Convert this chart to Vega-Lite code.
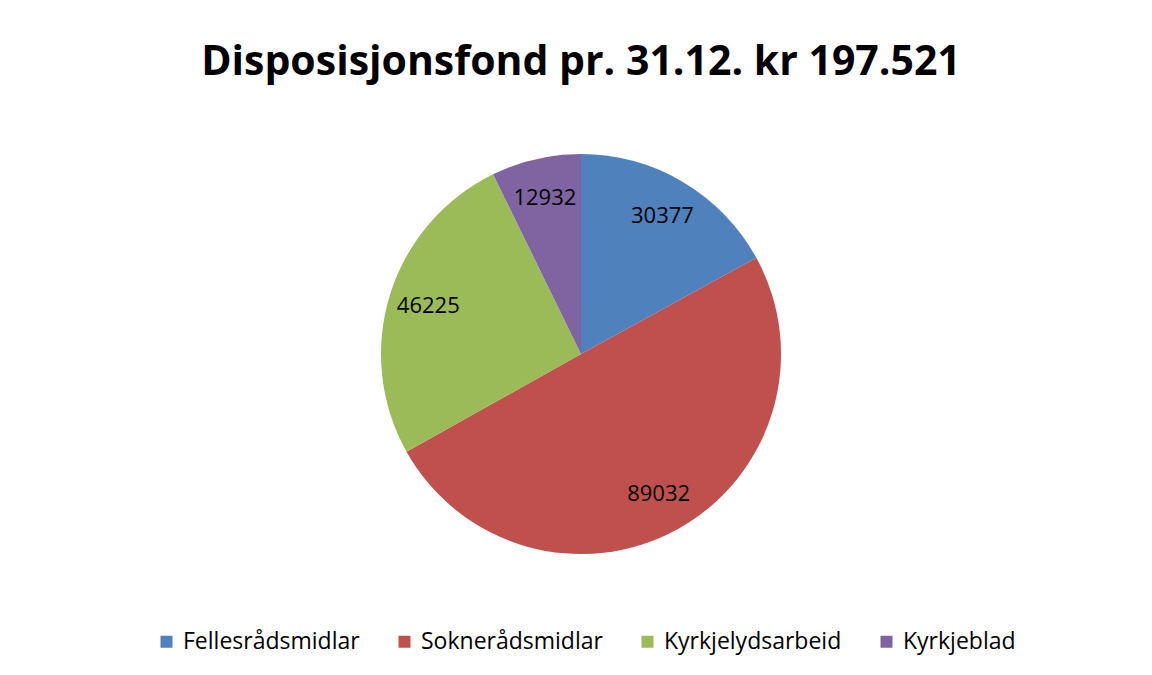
{
  "$schema": "https://vega.github.io/schema/vega-lite/v6.json",
  "width": 400,
  "height": 400,
  "autosize": {"type": "none"},
  "padding": {"left": 381, "top": 154, "right": 371, "bottom": 121},
  "background": "white",
  "title": {
    "text": "Disposisjonsfond pr. 31.12.  kr 197.521",
    "font": "Open Sans",
    "fontSize": 41,
    "fontWeight": "bold",
    "color": "black",
    "anchor": "middle",
    "baseline": "alphabetic",
    "offset": 38
  },
  "data": {
    "values": [
      {"kategori": "Fellesrådsmidlar", "verdi": 30377, "idx": 1},
      {"kategori": "Soknerådsmidlar", "verdi": 89032, "idx": 2},
      {"kategori": "Kyrkjelydsarbeid", "verdi": 46225, "idx": 3},
      {"kategori": "Kyrkjeblad", "verdi": 12932, "idx": 4}
    ]
  },
  "encoding": {
    "theta": {"field": "verdi", "type": "quantitative", "stack": true},
    "order": {"field": "idx", "type": "quantitative"}
  },
  "layer": [
    {
      "mark": {"type": "arc", "outerRadius": 200, "stroke": null},
      "encoding": {
        "color": {
          "field": "kategori",
          "type": "nominal",
          "scale": {
            "domain": ["Fellesrådsmidlar", "Soknerådsmidlar", "Kyrkjelydsarbeid", "Kyrkjeblad"],
            "range": ["#4F81BD", "#C0504D", "#9BBB59", "#8064A2"]
          },
          "legend": {
            "title": null,
            "orient": "none",
            "direction": "horizontal",
            "legendX": -226,
            "legendY": 476,
            "symbolType": "square",
            "symbolSize": 144,
            "symbolStrokeWidth": 0,
            "labelFont": "Open Sans",
            "labelFontSize": 23,
            "labelColor": "black",
            "labelOffset": 5,
            "columnPadding": 33,
            "labelLimit": 400
          }
        }
      }
    },
    {
      "mark": {"type": "text", "radius": 160, "font": "Open Sans", "fontSize": 22, "fill": "black"},
      "encoding": {
        "detail": {"field": "kategori", "type": "nominal"},
        "text": {"field": "verdi", "type": "quantitative", "format": "d"}
      }
    }
  ],
  "config": {"view": {"stroke": null}}
}
